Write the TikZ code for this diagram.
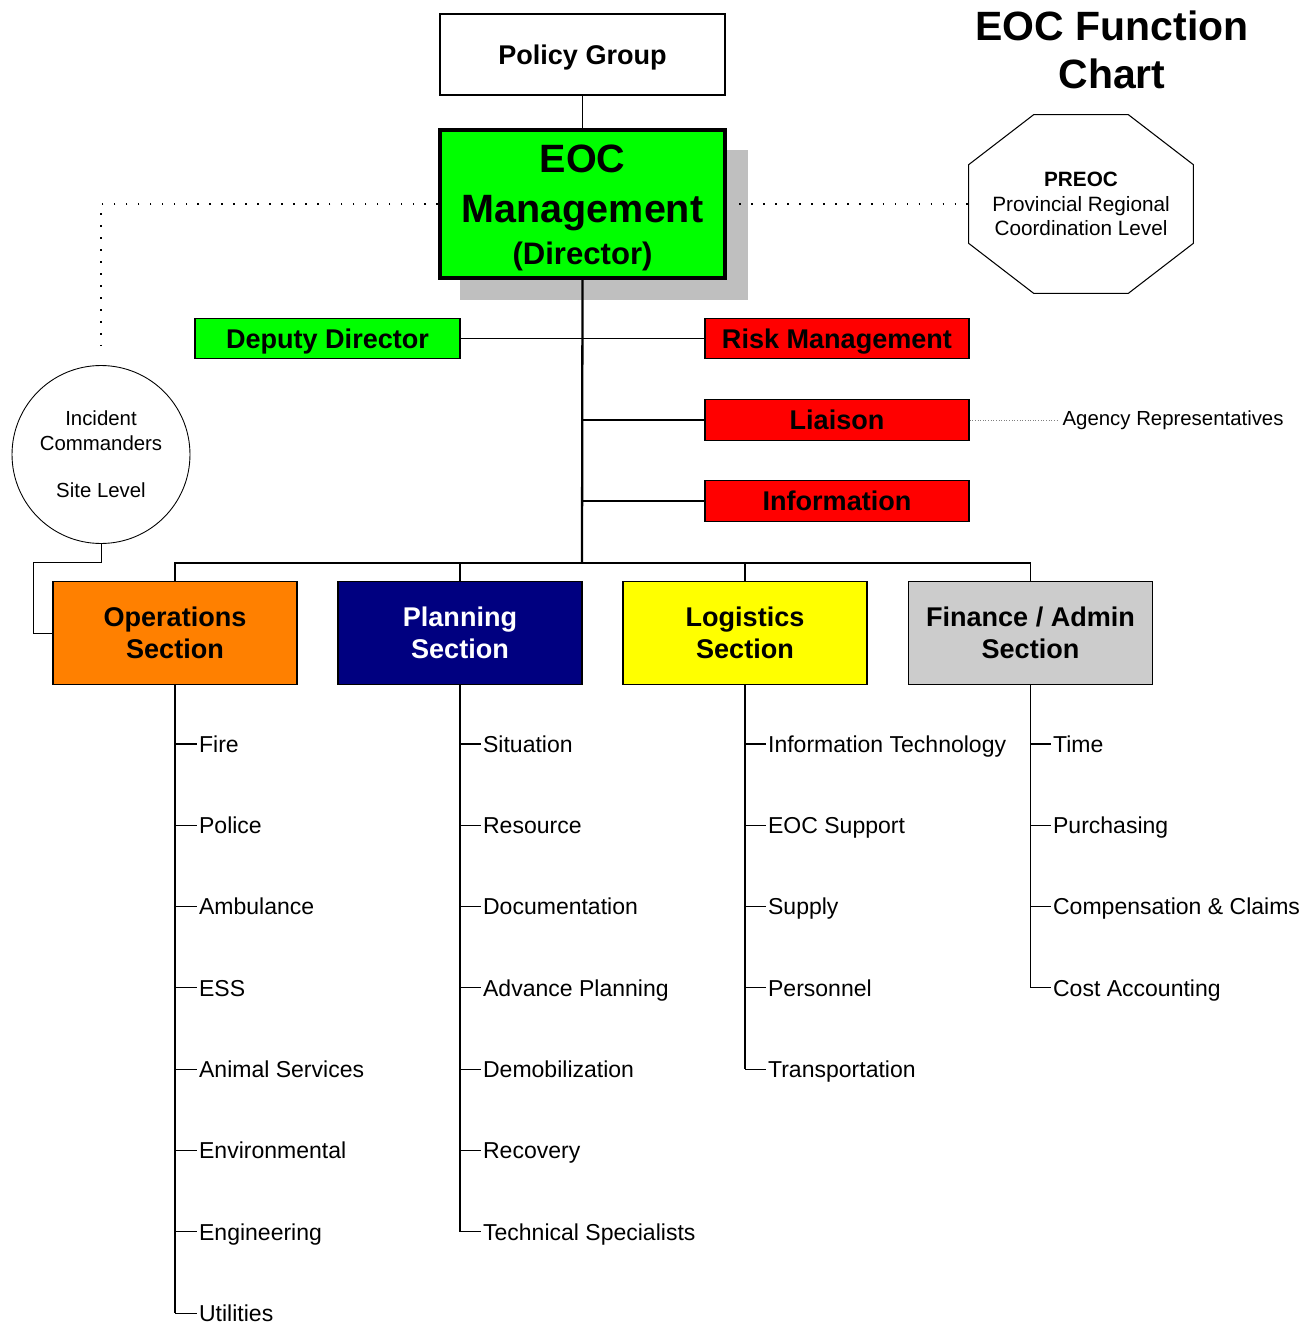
\documentclass[tikz,border=0pt]{standalone}
\usepackage{fontspec}
\setmainfont{Liberation Sans}
\usetikzlibrary{shadows}
\definecolor{mgreen}{RGB}{0,255,0}
\definecolor{mred}{RGB}{255,0,0}
\definecolor{morange}{RGB}{255,128,0}
\definecolor{mnavy}{RGB}{0,0,128}
\definecolor{myellow}{RGB}{255,255,0}
\definecolor{mgrey}{RGB}{204,204,204}
\tikzset{
  unitbox/.style={draw, line width=0.7pt, inner sep=0pt, align=center, font=\bfseries\fontsize{15.4}{18.1}\selectfont},
  oneline/.style={text height=11pt, text depth=0pt},
  staffbox/.style={unitbox, oneline, fill=mred, minimum width=5.28cm, minimum height=0.81cm},
  sectionbox/.style={unitbox, minimum width=4.88cm, minimum height=2.06cm},
  item/.style={anchor=west, inner sep=1pt, text height=9.4pt, text depth=0pt, font=\fontsize{13.1}{15}\selectfont},
  tick/.style={line width=0.6pt},
  trunk/.style={line width=1pt},
  sparsedots/.style={line width=0.9pt, dash pattern=on 0.9pt off 5.9pt}
}

\begin{document}
\begin{tikzpicture}[x=0.02cm, y=-0.02cm]
  \useasboundingbox (0,0) rectangle (1310,1325);

  \node [font=\bfseries\fontsize{23.3}{27.2}\selectfont, align=center] (title) at (1112,50) {EOC Function\\Chart};

  \node [unitbox, oneline, minimum width=5.7cm, minimum height=1.62cm] (policy) at (582.5,54.5) {Policy Group};
  \node [draw, line width=2.3pt, fill=mgreen, minimum width=5.7cm, minimum height=2.96cm, inner sep=0pt, align=center,
         font=\bfseries\fontsize{22.5}{28.4}\selectfont,
         drop shadow={shadow xshift=0.42cm, shadow yshift=-0.42cm, shadow scale=1.01, fill=black!25, opacity=1}] (eoc) at (582.5,204)
        {\rule{0pt}{20pt}EOC\\Management\\[-4.5pt]{\fontsize{17.7}{20}\selectfont (Director)}};

  \node [minimum width=4.48cm, minimum height=3.56cm, inner sep=0pt, align=center,
         font=\fontsize{11.8}{13.9}\selectfont] (preoc) at (1081,204)
        {\textbf{PREOC}\\Provincial Regional\\Coordination Level};
  \draw [line width=0.6pt] ([xshift=1.3cm]preoc.north west) -- ([xshift=-1.3cm]preoc.north east)
    -- ([yshift=-1cm]preoc.north east) -- ([yshift=1cm]preoc.south east)
    -- ([xshift=-1.3cm]preoc.south east) -- ([xshift=1.3cm]preoc.south west)
    -- ([yshift=1cm]preoc.south west) -- ([yshift=-1cm]preoc.north west) -- cycle;

  \node [draw, circle, line width=0.5pt, minimum size=3.56cm, inner sep=0pt, align=center,
         font=\fontsize{11.6}{14.2}\selectfont] (ic) at (101,454.5) {Incident\\Commanders\\[12.8pt]Site Level};

  \node [unitbox, oneline, fill=mgreen, minimum width=5.3cm, minimum height=0.81cm] (deputy) at (327.5,338.5) {Deputy Director};
  \node [staffbox] (risk) at (837,338.5) {Risk Management};
  \node [staffbox] (liaison) at (837,420) {Liaison};
  \node [staffbox] (info) at (837,501) {Information};
  \node [anchor=west, inner sep=3pt, font=\fontsize{11.6}{14}\selectfont] (agency) at (1057,420) {Agency Representatives};

  \node [sectionbox, fill=morange] (ops) at (175,633) {Operations\\Section};
  \node [sectionbox, fill=mnavy, text=white] (plan) at (460,633) {Planning\\Section};
  \node [sectionbox, fill=myellow] (log) at (745,633) {Logistics\\Section};
  \node [sectionbox, fill=mgrey] (fin) at (1030.5,633) {Finance / Admin\\Section};

  \coordinate (bus) at (582,563);
  \coordinate (icbend) at (33,562);

  \draw [line width=0.8pt] (policy.south) -- (eoc.north);
  \draw [line width=1.3pt] (eoc.south) -- (bus);
  \draw [tick] (deputy.east) -- (risk.west);
  \draw [tick] (liaison.west) -- (liaison.west -| eoc.south);
  \draw [tick] (info.west) -- (info.west -| eoc.south);
  \draw [line width=0.7pt] (ops.north) |- (bus) -| (fin.north);
  \draw [line width=0.7pt] (plan.north) -- (plan.north |- bus);
  \draw [line width=0.7pt] (log.north) -- (log.north |- bus);
  \draw [line width=0.5pt] (ic.south) |- (icbend) |- (ops.west);

  \draw [sparsedots, shorten >=0.2cm] (eoc.west) -| (ic.north);
  \draw [sparsedots, shorten <=0.25cm] (eoc.east) -- (preoc.west);
  \draw [densely dotted, gray, line width=0.5pt] (liaison.east) -- (agency.west);

  \foreach \name [count=\i] in {Fire, Police, Ambulance, ESS, Animal Services, Environmental, Engineering, Utilities}
    \node [item] (ops-\i) at (197,{662.7+81.3*\i}) {\name};
  \foreach \name [count=\i] in {Situation, Resource, Documentation, Advance Planning, Demobilization, Recovery, Technical Specialists}
    \node [item] (plan-\i) at (481,{662.7+81.3*\i}) {\name};
  \foreach \name [count=\i] in {Information Technology, EOC Support, Supply, Personnel, Transportation}
    \node [item] (log-\i) at (766,{662.7+81.3*\i}) {\name};
  \foreach \name [count=\i] in {Time, Purchasing, Compensation \& Claims, Cost Accounting}
    \node [item] (fin-\i) at (1051,{662.7+81.3*\i}) {\name};

  \draw [trunk] (ops.south) -- (ops.south |- ops-8.west);
  \draw [trunk] (plan.south) -- (plan.south |- plan-7.west);
  \draw [trunk] (log.south) -- (log.south |- log-5.west);
  \draw [trunk] (fin.south) -- (fin.south |- fin-4.west);
  \foreach \i in {1,...,8} \draw [tick] (ops.south |- ops-\i.west) -- (ops-\i.west);
  \foreach \i in {1,...,7} \draw [tick] (plan.south |- plan-\i.west) -- (plan-\i.west);
  \foreach \i in {1,...,5} \draw [tick] (log.south |- log-\i.west) -- (log-\i.west);
  \foreach \i in {1,...,4} \draw [tick] (fin.south |- fin-\i.west) -- (fin-\i.west);
\end{tikzpicture}
\end{document}
